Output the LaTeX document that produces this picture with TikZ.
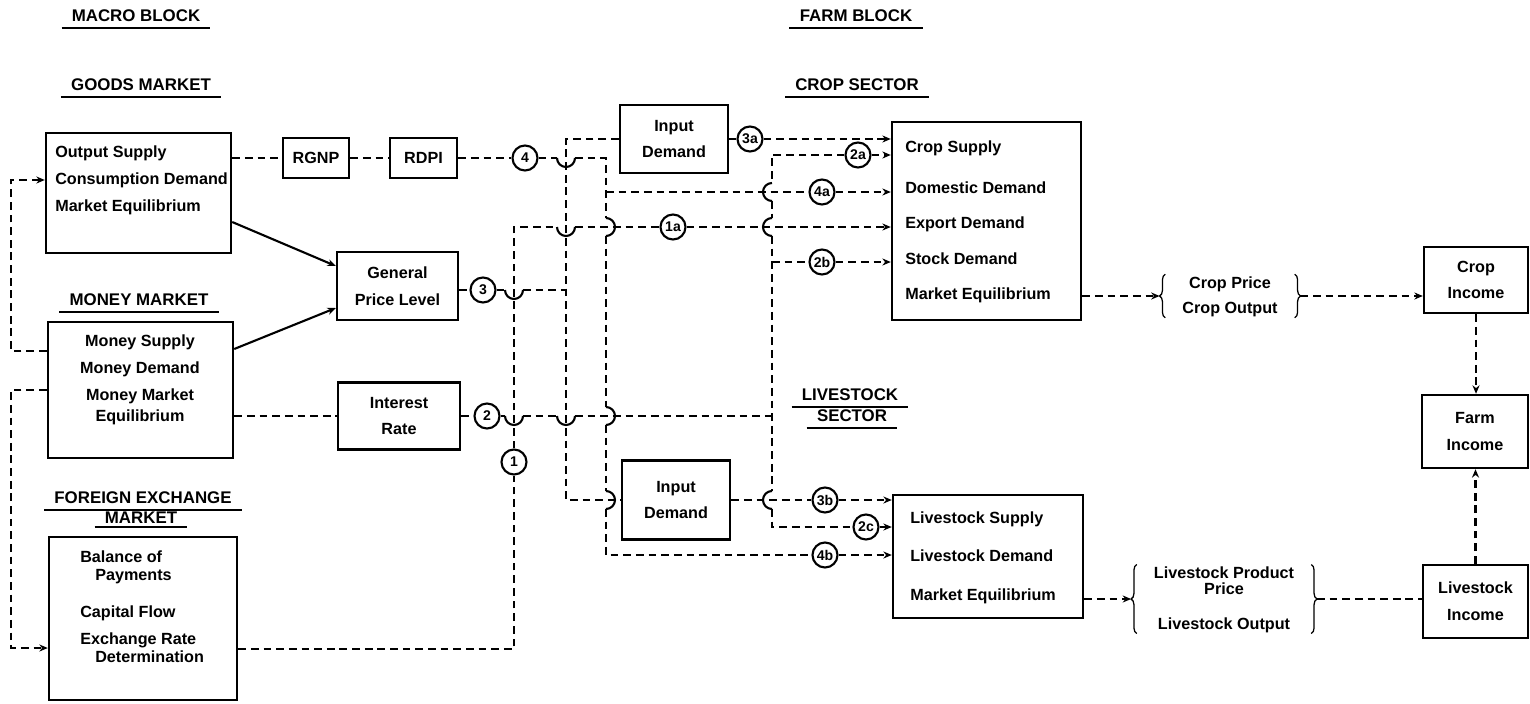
\documentclass[tikz,border=0pt]{standalone}
\usepackage{fontspec}
\setmainfont{Liberation Sans}
\usetikzlibrary{arrows.meta,decorations.pathreplacing}

\begin{document}
\begin{tikzpicture}[x=0.025cm, y=-0.025cm, >={Stealth[length=6pt,width=5pt]},
	box/.style={draw, line width=1.7pt, inner sep=0pt, align=center, font=\fontsize{11.5}{19}\selectfont\bfseries},
	txt/.style={inner sep=0pt, anchor=west, align=left},
	sig/.style={circle, draw, line width=1.5pt, minimum size=0.625cm, inner sep=0pt, font=\fontsize{10}{10}\selectfont\bfseries},
	head/.style={inner xsep=0.25cm, inner ysep=4pt, font=\fontsize{12}{12}\selectfont\bfseries},
	link/.style={line width=1.5pt, dash pattern=on 5.5pt off 3.5pt},
	hop/.style={line width=1.5pt},
	grp/.style={inner xsep=10pt, inner ysep=0pt, font=\fontsize{11.5}{17.8}\selectfont\bfseries},
	curly/.style={line width=0.9pt, decorate, decoration={brace, amplitude=4pt}}]
	
	\useasboundingbox (0,0) rectangle (1530,703);
	
	% Tiêu đề các khối
	\node[head] (hmacro) at (136,16) {MACRO BLOCK};
	\node[head] (hgoods) at (141,85) {GOODS MARKET};
	\node[head] (hmoney) at (139,300) {MONEY MARKET};
	\node[head] (hfx) at (143,498) {FOREIGN EXCHANGE};
	\node[head, inner ysep=2pt] (hfxm) at (141,518) {MARKET};
	\node[head] (hfarm) at (856,16) {FARM BLOCK};
	\node[head] (hcrop) at (857,85) {CROP SECTOR};
	\node[head] (hlive) at (850,395) {LIVESTOCK};
	\node[head] (hsect) at (852,416) {SECTOR};
	\foreach \h in {hmacro,hgoods,hmoney,hfx,hfxm,hfarm,hcrop,hlive,hsect}
		\draw[line width=1.5pt] (\h.south west) -- (\h.south east);
	
	% Khối vĩ mô
	\node[box, minimum width=4.625cm, minimum height=3cm] (goods) at (138.5,193) {};
	\node[txt, font=\fontsize{11.5}{19.2}\selectfont\bfseries] (goodstxt) at (55,180) {Output Supply\\Consumption Demand\\Market Equilibrium};
	\node[box, minimum width=4.625cm, minimum height=3.4cm] (money) at (140.5,390) {};
	\node[txt, anchor=center, align=center, font=\fontsize{11.5}{19}\selectfont\bfseries] (moneytxt) at (140,380) {Money Supply\\Money Demand\\Money Market\\[-4pt]Equilibrium};
	\node[box, minimum width=4.7cm, minimum height=4.075cm] (forex) at (143,618.5) {};
	\node[txt, font=\fontsize{11.5}{12.8}\selectfont\bfseries] (forextxt) at (80,607) {Balance of\\\hspace*{0.375cm}Payments\\[13.5pt]Capital Flow\\[6.4pt]Exchange Rate\\\hspace*{0.375cm}Determination};
	\node[box, minimum width=1.65cm, minimum height=1cm] (rgnp) at (316,158) {RGNP};
	\node[box, minimum width=1.675cm, minimum height=1cm] (rdpi) at (423.5,158) {RDPI};
	\node[box, minimum width=3.025cm, minimum height=1.7cm] (gpl) at (397.5,286) {General\\Price Level};
	\node[box, minimum width=3.05cm, minimum height=1.675cm] (irate) at (399,416) {Interest\\Rate};
	
	% Khối nông trại
	\node[box, minimum width=2.7cm, minimum height=1.7cm] (cropin) at (674,139) {Input\\Demand};
	\node[box, minimum width=2.7cm, minimum height=1.975cm] (livein) at (676,500) {Input\\Demand};
	\node[box, minimum width=4.725cm, minimum height=4.95cm] (crop) at (986.5,221) {};
	\node[txt, font=\fontsize{11.5}{25.2}\selectfont\bfseries] (croptxt) at (905,222) {Crop Supply\\[3.9pt]Domestic Demand\\Export Demand\\Stock Demand\\Market Equilibrium};
	\node[box, minimum width=4.75cm, minimum height=3.075cm] (live) at (988,556.5) {};
	\node[txt, font=\fontsize{11.5}{27.4}\selectfont\bfseries] (livetxt) at (910,557.5) {Livestock Supply\\Livestock Demand\\Market Equilibrium};
	\node[grp] (cropout) at (1230,296) {\begin{tabular}{c}Crop Price\\Crop Output\end{tabular}};
	\node[grp] (liveout) at (1224,599) {\begin{tabular}{c}Livestock Product\\[-5.8pt]Price\\[7.1pt]Livestock Output\end{tabular}};
	\draw[curly] ([xshift=4pt,yshift=2.5pt]cropout.south west) -- ([xshift=4pt,yshift=-2.5pt]cropout.north west);
	\draw[curly] ([xshift=-4pt,yshift=-2.5pt]cropout.north east) -- ([xshift=-4pt,yshift=2.5pt]cropout.south east);
	\draw[curly] ([xshift=4pt,yshift=3pt]liveout.south west) -- ([xshift=4pt,yshift=-3pt]liveout.north west);
	\draw[curly] ([xshift=-4pt,yshift=-3pt]liveout.north east) -- ([xshift=-4pt,yshift=3pt]liveout.south east);
	\node[box, minimum width=2.6cm, minimum height=1.65cm] (cropinc) at (1476,280) {Crop\\Income};
	\node[box, minimum width=2.65cm, minimum height=1.825cm] (farminc) at (1475,431.5) {Farm\\Income};
	\node[box, minimum width=2.625cm, minimum height=1.825cm] (liveinc) at (1475.5,601.5) {Livestock\\Income};
	
	% Các vòng tín hiệu
	\foreach \n/\x/\y/\l in {s4/525/158/4, s3/483/290/3, s2/487/416/2, s1/514/462/1,
		s3a/750/139/3a, s2a/858/155/2a, s4a/822/192/4a, s1a/673/227/1a,
		s2b/822/262/2b, s3b/825/500/3b, s2c/866/527/2c, s4b/825/555/4b}
		\node[sig] (\n) at (\x,\y) {\l};
	
	% Điểm rẽ nhánh
	\coordinate (j3) at (566,290);
	\coordinate (j2) at (772,416);
	\coordinate (j2b) at (772,262);
	\coordinate (j4a) at (606,192);
	
	% Liên kết trong khối vĩ mô
	\draw[link] (goods.east |- rgnp) -- (rgnp);
	\draw[link] (rgnp) -- (rdpi);
	\draw[link] (rdpi) -- (s4);
	\draw[line width=1.5pt, ->] (goods.east |- 0,222) -- (gpl.west |- 0,266);
	\draw[line width=1.5pt, ->] (money.east |- 0,349) -- (gpl.west |- 0,308);
	\draw[link] (money.east |- irate) -- (irate);
	\draw[link] (gpl.east |- s3) -- (s3);
	\draw[link] (irate) -- (s2);
	\draw[link, ->] (money.west |- 0,351) -- (11,351) -- (11,180) -- (goods.west |- 0,180);
	\draw[link, ->] (money.west |- 0,390) -- (11,390) -- (11,648) -- (forex.west |- 0,648);
	
	% Tín hiệu 1: tỷ giá
	\draw[link] (forex.east |- 0,649) -- (514,649) -- (s1);
	\draw[link] (s1) -- (514,227) -- (557,227) (575,227) -- (s1a);
	\draw[link, ->] (s1a) -- (crop.west |- s1a);
	
	% Tín hiệu 2: lãi suất
	\draw[link] (s2) -- (505,416) (523,416) -- (557,416) (575,416) -- (j2);
	\draw[link] (s2a) -- (772,155) -- (772,183) (772,201) -- (772,218) (772,236) -- (772,491) (772,509) -- (772,527) -- (s2c);
	\draw[link] (j2b) -- (s2b);
	\draw[link, ->] (s2a) -- (crop.west |- s2a);
	\draw[link, ->] (s2b) -- (crop.west |- s2b);
	\draw[link, ->] (s2c) -- (live.west |- s2c);
	
	% Tín hiệu 3: mức giá
	\draw[link] (s3) -- (505,290) (523,290) -- (j3);
	\draw[link] (cropin.west) -- (566,139) -- (566,500) -- (livein.west);
	\draw[link] (cropin.east) -- (s3a);
	\draw[link, ->] (s3a) -- (crop.west |- s3a);
	\draw[link] (livein.east) -- (s3b);
	\draw[link, ->] (s3b) -- (live.west |- s3b);
	
	% Tín hiệu 4: thu nhập khả dụng
	\draw[link] (s4) -- (557,158) (575,158) -- (606,158) -- (606,218) (606,236) -- (606,407) (606,425) -- (606,491) (606,509) -- (606,555) -- (s4b);
	\draw[link] (j4a) -- (s4a);
	\draw[link, ->] (s4a) -- (crop.west |- s4a);
	\draw[link, ->] (s4b) -- (live.west |- s4b);
	
	% Cầu vượt tại các chỗ giao nhau
	\foreach \x/\y in {566/158, 566/227, 514/290, 514/416, 566/416}
		\draw[hop] (\x-9,\y) arc[start angle=180, end angle=0, radius=9];
	\foreach \x/\y in {606/227, 606/416, 606/500}
		\draw[hop] (\x,\y-9) arc[start angle=-90, end angle=90, radius=9];
	\foreach \x/\y in {772/192, 772/227, 772/500}
		\draw[hop] (\x,\y-9) arc[start angle=270, end angle=90, radius=9];
	
	% Thu nhập nông trại
	\draw[link, ->] (crop.east |- cropout) -- (cropout.west);
	\draw[link, ->] (cropout.east) -- (cropout.east -| cropinc.west);
	\draw[link, ->] (cropinc) -- (cropinc |- farminc.north);
	\draw[link, ->] (liveinc) -- (liveinc |- farminc.south);
	\draw[link, ->] (live.east |- liveout) -- (liveout.west);
	\draw[link] (liveout.east) -- (liveout.east -| liveinc.west);
\end{tikzpicture}
\end{document}
